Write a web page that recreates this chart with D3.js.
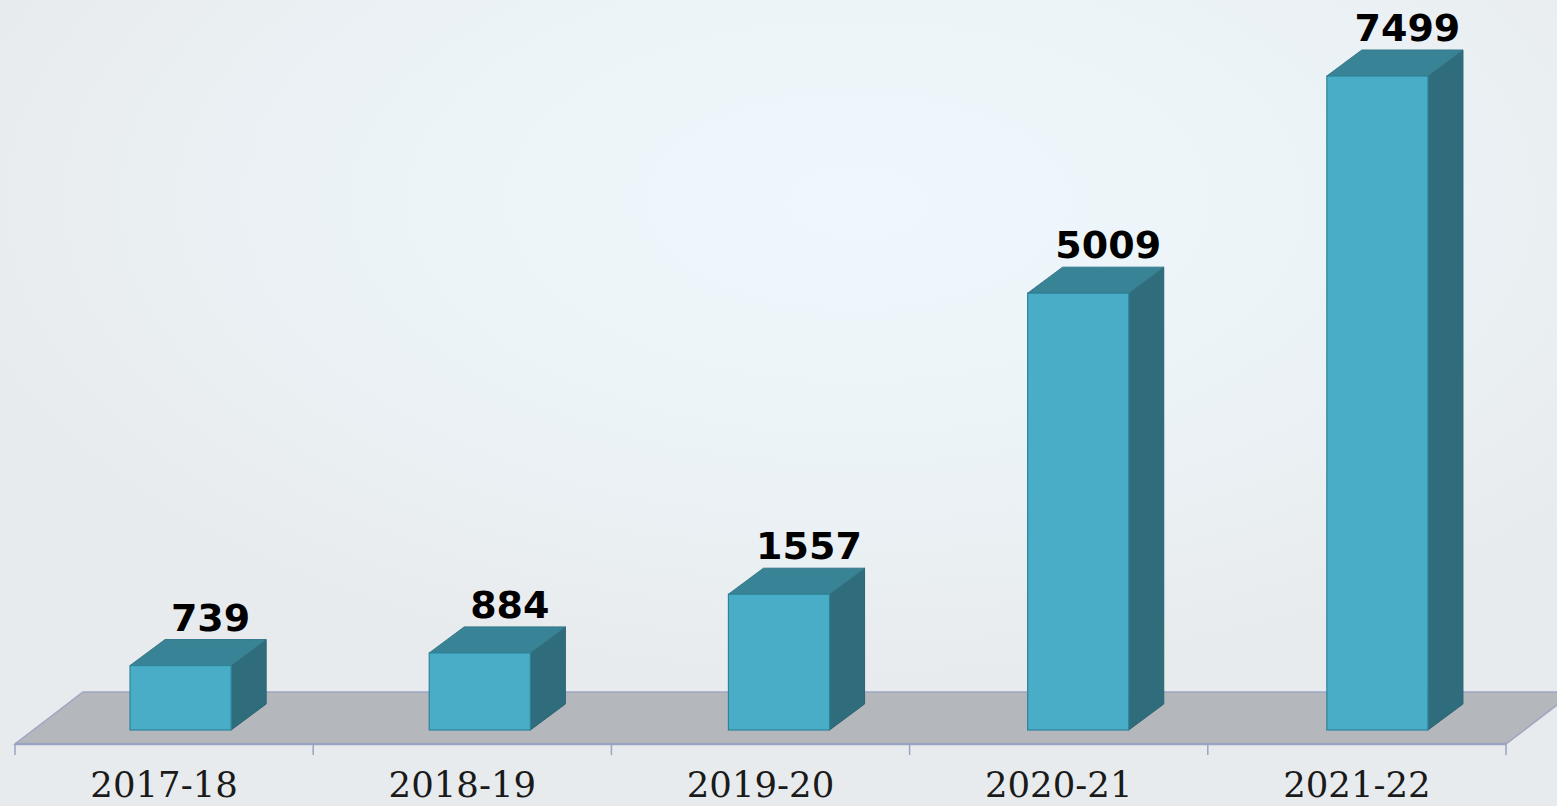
<!DOCTYPE html>
<html>
<head>
<meta charset="utf-8">
<script src="https://cdn.jsdelivr.net/npm/d3@7"></script>
<style>
  html, body { margin: 0; padding: 0; overflow: hidden; }
  svg { display: block; }
</style>
</head>
<body>
<div id="chart"></div>
<script>
// data
var years = ["2017-18", "2018-19", "2019-20", "2020-21", "2021-22"]
var counts = [739, 884, 1557, 5009, 7499]

var W = 1557, H = 806

var svg = d3.select("#chart")
    .append("svg")
    .attr("width", W)
    .attr("height", H)

var defs = svg.append("defs")
var bg = defs.append("radialGradient")
    .attr("id", "bg")
    .attr("cx", 0.55).attr("cy", 0.25).attr("r", 0.6)
bg.append("stop").attr("offset", "0%").attr("stop-color", "#eef7fc")
bg.append("stop").attr("offset", "45%").attr("stop-color", "#ecf4f8")
bg.append("stop").attr("offset", "100%").attr("stop-color", "#e8ebed")

svg.append("rect")
    .attr("width", W).attr("height", H)
    .attr("fill", "url(#bg)")

// scales
// floor / axis band
const x = d3.scaleBand()
    .domain(years)
    .range([15, 1506])

// bars sit a little deeper in the floor, so they spread slightly wider
const xb = d3.scaleBand()
    .domain(years)
    .range([31, 1527])
    .paddingInner(0.662)
    .paddingOuter(0.331)

const y = d3.scaleLinear()
    .domain([0, 7499])
    .range([730, 76])

var floorY = 744
var depth = { dx: 68, dy: -52 }     // full floor depth
var barDepth = { dx: 35, dy: -26 }

// FLOOR
var x0 = x.range()[0], x1 = x.range()[1]
svg.append("path")
    .attr("d", "M" + x0 + "," + floorY +
        "L" + x1 + "," + floorY +
        "L" + (x1 + depth.dx) + "," + (floorY + depth.dy) +
        "L" + (x0 + depth.dx) + "," + (floorY + depth.dy) + "Z")
    .attr("fill", "#b4b7bb")
    .attr("stroke", "#9ea7c2")
    .attr("stroke-width", 1.5)

svg.append("line")
    .attr("x1", x0).attr("x2", x1)
    .attr("y1", floorY).attr("y2", floorY)
    .attr("stroke", "#9aa3bf")
    .attr("stroke-width", 2.5)

// tick marks on band edges
var edges = years.map(d => x(d)).concat([x1])
svg.selectAll(".tk")
    .data(edges)
    .enter().append("line")
    .attr("x1", d => d).attr("x2", d => d)
    .attr("y1", floorY).attr("y2", floorY + 11)
    .attr("stroke", "#9aa3bf")
    .attr("stroke-width", 1.5)

// BARS
var data = years.map((d, i) => ({ year: d, value: counts[i] }))

const bars = svg.selectAll(".bar")
    .data(data)
    .enter().append("g")
    .attr("class", "bar")

var barW = xb.bandwidth()
function fx(d) { return xb(d.year) }
function bottom() { return y(0) }

// right side
bars.append("path")
    .attr("d", function (d) {
        var l = fx(d) + barW, t = y(d.value), b = bottom()
        return "M" + l + "," + b + "L" + l + "," + t +
            "L" + (l + barDepth.dx) + "," + (t + barDepth.dy) +
            "L" + (l + barDepth.dx) + "," + (b + barDepth.dy) + "Z"
    })
    .attr("fill", "#306d7c")
    .attr("stroke", "#2b6372")
    .attr("stroke-width", 1)

// top
bars.append("path")
    .attr("d", function (d) {
        var l = fx(d), t = y(d.value)
        return "M" + l + "," + t + "L" + (l + barW) + "," + t +
            "L" + (l + barW + barDepth.dx) + "," + (t + barDepth.dy) +
            "L" + (l + barDepth.dx) + "," + (t + barDepth.dy) + "Z"
    })
    .attr("fill", "#398396")
    .attr("stroke", "#337889")
    .attr("stroke-width", 1)

// front
bars.append("rect")
    .attr("x", d => fx(d))
    .attr("y", d => y(d.value))
    .attr("width", barW)
    .attr("height", d => bottom() - y(d.value))
    .attr("fill", "#4aadc8")
    .attr("stroke", "#2f8399")
    .attr("stroke-width", 1.2)

// value labels
bars.append("text")
    .attr("x", d => fx(d) + barW / 2 + 30)
    .attr("y", d => y(d.value) + barDepth.dy - 9)
    .attr("text-anchor", "middle")
    .attr("font-family", "DejaVu Sans")
    .attr("font-weight", "bold")
    .attr("font-size", 38)
    .attr("fill", "#000")
    .text(d => d.value)

// category labels
const xAxis = d3.axisBottom(x).tickSize(0).tickPadding(0)
var ax = svg.append("g")
    .attr("transform", "translate(0," + 797 + ")")
    .call(xAxis)
ax.select(".domain").remove()
ax.selectAll("text")
    .attr("dy", 0)
    .attr("y", 0)
    .attr("font-family", "DejaVu Serif")
    .attr("font-size", 35.5)
    .attr("fill", "#1a1a1a")
</script>
</body>
</html>
